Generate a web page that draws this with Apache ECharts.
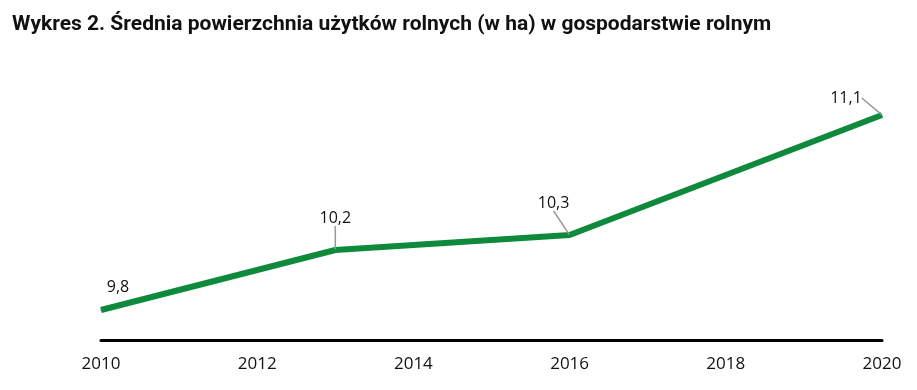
<!DOCTYPE html>
<html><head><meta charset="utf-8">
<script src="https://cdn.jsdelivr.net/npm/echarts@6/dist/echarts.min.js"></script>
<style>html,body{margin:0;padding:0;background:#fff}#c{width:917px;height:390px}</style>
</head><body><div id="c"></div>
<script>
const years = [2010, 2013, 2016, 2020];
const values = [9.8, 10.2, 10.3, 11.1];
const labelOffsets = [[17, -23], [0, -32], [-16, -32], [-36, -17]];
const showLeader = [false, true, true, true];

const chart = echarts.init(document.getElementById('c'));
chart.setOption({
  animation: false,
  title: {
    text: 'Wykres 2. Średnia powierzchnia użytków rolnych (w ha) w gospodarstwie rolnym',
    left: 7, top: 9,
    textStyle: {fontFamily: 'Roboto', fontWeight: 'bold', fontSize: 21, color: '#111'}
  },
  grid: {left: 101, right: 35, top: 100, bottom: 50},
  xAxis: {
    type: 'value', min: 2010, max: 2020, interval: 2,
    axisLine: {show: true, lineStyle: {color: '#000', width: 3}},
    axisTick: {show: false},
    splitLine: {show: false},
    axisLabel: {fontSize: 17, color: '#111', margin: 16, fontFamily: "'Open Sans'", formatter: v => String(v)}
  },
  yAxis: {type: 'value', min: 9.6, max: 11.2, show: false, splitLine: {show: false}},
  series: [{
    type: 'line',
    data: years.map((y, i) => ({
      value: [y, values[i]],
      labelLine: {show: showLeader[i]}
    })),
    symbol: 'circle', symbolSize: 1, showSymbol: true,
    lineStyle: {color: '#0f8a3d', width: 6},
    itemStyle: {color: '#0f8a3d'},
    label: {
      show: true, position: 'inside', fontSize: 16, color: '#111',
      fontFamily: "'Open Sans'",
      formatter: p => String(p.value[1]).replace('.', ',')
    },
    labelLine: {show: true, lineStyle: {color: '#999', width: 1.5}},
    labelLayout: p => ({dx: labelOffsets[p.dataIndex][0], dy: labelOffsets[p.dataIndex][1]})
  }]
});
</script></body></html>
